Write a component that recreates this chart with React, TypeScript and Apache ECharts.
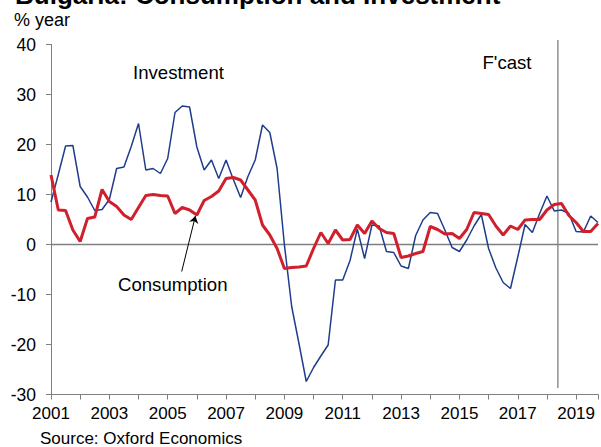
import React, { useEffect, useRef } from "react";
import * as echarts from "echarts";

// Quarterly data, starting 2001Q1 (% year)
const startYear = 2001;
const investment = [
  8.5, 14.0, 19.7, 19.8, 11.6, 9.5, 6.8, 7.0,
  9.0, 15.2, 15.5, 19.6, 24.2, 14.9, 15.2, 14.2,
  17.2, 26.4, 27.7, 27.5, 19.5, 14.9, 16.9, 13.2,
  16.9, 13.0, 9.4, 13.6, 16.9, 23.9, 22.4, 15.2,
  0.0, -12.4, -19.8, -27.4, -24.6, -22.3, -20.1, -7.1,
  -7.1, -3.2, 3.1, -2.8, 3.9, 3.7, -1.4, -1.6,
  -4.3, -4.8, 1.8, 4.9, 6.4, 6.2, 2.9, -0.6,
  -1.4, 0.9, 3.7, 6.0, -0.8, -4.7, -7.6, -8.8,
  -2.5, 4.0, 2.4, 6.2, 9.7, 6.7, 6.9, 6.2,
  2.6, 2.5, 5.7, 4.4,
];
const consumption = [
  13.9, 6.9, 6.8, 2.9, 0.6, 5.2, 5.5, 11.0,
  8.6, 7.6, 5.9, 5.0, 7.4, 9.8, 10.0, 9.8,
  9.7, 6.2, 7.4, 6.9, 5.9, 8.8, 9.6, 10.7,
  13.2, 13.4, 12.9, 10.9, 8.9, 3.9, 1.9, -0.8,
  -4.8, -4.6, -4.5, -4.3, -0.8, 2.4, 0.2, 2.9,
  0.9, 1.0, 3.9, 2.2, 4.7, 3.2, 2.4, 2.2,
  -2.6, -2.3, -1.8, -1.4, 3.6, 3.0, 2.1, 2.2,
  1.2, 3.0, 6.4, 6.2, 6.0, 3.7, 1.9, 3.7,
  3.0, 4.9, 5.0, 5.0, 6.9, 8.0, 8.2, 5.8,
  4.4, 2.6, 2.6, 4.2,
];
const yearLabels = ["2001", "2003", "2005", "2007", "2009", "2011", "2013", "2015", "2017", "2019"];
const forecastStart = 2018.375;
const arrowFrom = [2005.48, -5.4];
const arrowTo = [2005.95, 5.7];

const FONT = "'Liberation Sans', Arial, Helvetica, sans-serif";

export default function App() {
  const ref = useRef<HTMLDivElement>(null);
  useEffect(() => {
    const chart = echarts.init(ref.current!, null, { renderer: "svg" });
    const toPts = (arr: number[]) => arr.map((v, i) => [startYear + i / 4, v]);
    const axisColor = "#7f7f7f";
    chart.setOption({
      animation: false,
      textStyle: { fontFamily: FONT },
      grid: { left: 51, top: 44.5, width: 551.25, height: 350, containLabel: false },
      xAxis: {
        type: "value",
        min: 2001,
        max: 2019.75,
        interval: 1,
        axisLine: { show: true, onZero: false, lineStyle: { color: axisColor, width: 1 } },
        axisTick: { show: true, length: 5, inside: false, lineStyle: { color: axisColor } },
        splitLine: { show: false },
        axisLabel: {
          margin: 10,
          fontSize: 17,
          color: "#000",
          fontFamily: FONT,
          formatter: (v: number) => (yearLabels.includes(String(v)) ? String(v) : ""),
        },
      },
      yAxis: {
        type: "value",
        min: -30,
        max: 40,
        interval: 10,
        axisLine: { show: true, onZero: false, lineStyle: { color: axisColor, width: 1 } },
        axisTick: { show: true, length: 5, lineStyle: { color: axisColor } },
        splitLine: { show: false },
        axisLabel: { margin: 15, fontSize: 17.5, color: "#000", fontFamily: FONT },
      },
      series: [
        {
          type: "line",
          data: [[2001, 0], [2019.75, 0]],
          symbol: "none",
          silent: true,
          lineStyle: { color: axisColor, width: 1.3 },
          z: 1,
        },
        {
          type: "line",
          data: [[forecastStart, 40.9], [forecastStart, -28.7]],
          symbol: "none",
          silent: true,
          clip: false,
          lineStyle: { color: axisColor, width: 1.3 },
          z: 1,
        },
        {
          name: "Investment",
          type: "line",
          data: toPts(investment),
          symbol: "none",
          lineStyle: { color: "#1f3d8c", width: 1.5 },
          z: 2,
        },
        {
          name: "Consumption",
          type: "line",
          data: toPts(consumption),
          symbol: "none",
          lineStyle: { color: "#d0202e", width: 3 },
          z: 3,
          markLine: {
            silent: true,
            animation: false,
            symbol: ["none", "arrow"],
            symbolSize: 7,
            label: { show: false },
            lineStyle: { color: "#000", width: 1, type: "solid" },
            data: [[{ coord: arrowFrom }, { coord: arrowTo }]],
          },
        },
      ],
      graphic: [
        {
          type: "text",
          left: 15,
          top: -18,
          style: { text: "Bulgaria: Consumption and Investment", font: `bold 26px ${FONT}`, fill: "#000" },
        },
        {
          type: "text",
          x: 14,
          y: 20,
          style: { text: "% year", font: `18px ${FONT}`, fill: "#000", textVerticalAlign: "middle" },
        },
        {
          type: "text",
          x: 133,
          y: 72,
          style: { text: "Investment", font: `18.6px ${FONT}`, fill: "#000", textVerticalAlign: "middle" },
        },
        {
          type: "text",
          x: 482.5,
          y: 62.5,
          style: { text: "F'cast", font: `18.6px ${FONT}`, fill: "#000", textVerticalAlign: "middle" },
        },
        {
          type: "text",
          x: 118,
          y: 284.5,
          style: { text: "Consumption", font: `18.6px ${FONT}`, fill: "#000", textVerticalAlign: "middle" },
        },
        {
          type: "text",
          x: 40,
          y: 438.5,
          style: { text: "Source: Oxford Economics", font: `17px ${FONT}`, fill: "#000", textVerticalAlign: "middle" },
        },
      ],
    });
    return () => chart.dispose();
  }, []);
  return (
    <div
      ref={ref}
      style={{ position: "absolute", left: 0, top: 0, width: 601, height: 447, background: "#fff" }}
    />
  );
}
